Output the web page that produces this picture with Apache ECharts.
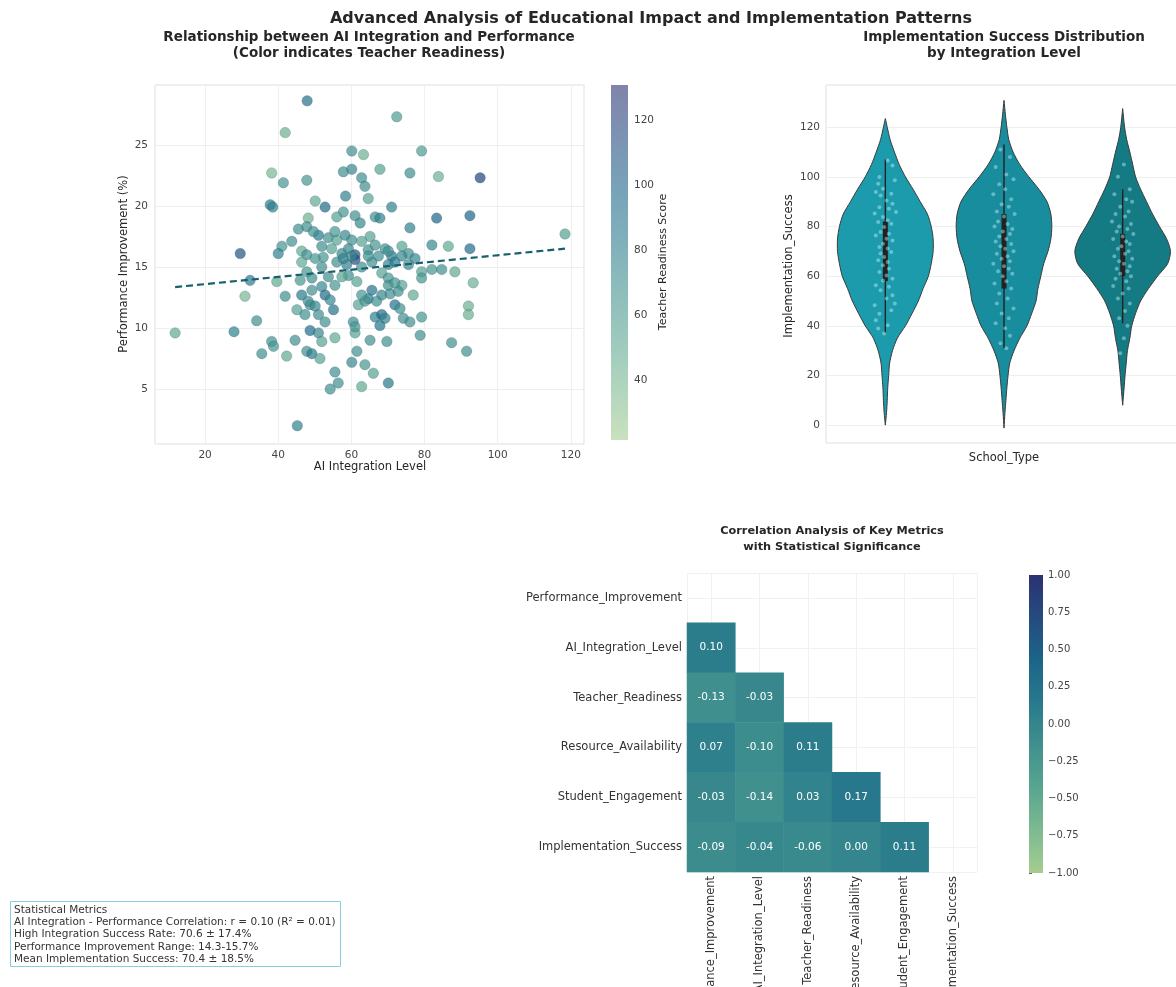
<!DOCTYPE html>
<html><head><meta charset="utf-8">
<script src="https://cdn.jsdelivr.net/npm/echarts@6/dist/echarts.min.js"></script>
<style>html,body{margin:0;padding:0;background:#fff}#c{width:1176px;height:987px}</style>
</head><body><div id="c"></div>
<script>
// ---------- Scatter: AI integration vs performance ----------
const aiLevel = [47.9,72.4,41.9,60.1,63.3,79.2,38.2,41.4,47.8,57.8,60.1,62.8,67.8,76.0,83.8,95.2,37.8,38.5,58.4,64.6,63.7,50.1,52.8,57.8,56.0,61.0,62.4,66.5,67.8,71.0,76.0,83.3,92.4,48.2,45.5,47.8,51.0,53.7,56.0,58.3,65.1,43.7,41.0,29.6,40.0,46.4,47.8,51.9,52.3,54.6,57.4,59.2,61.0,61.0,64.6,66.5,69.2,71.0,73.8,75.6,77.4,82.0,86.5,92.4,118.4,46.4,50.1,56.0,58.7,62.8,65.6,70.1,71.9,75.6,79.2,82.0,84.7,88.3,32.3,39.6,46.0,49.2,53.7,59.2,61.5,68.3,70.1,73.8,79.2,93.3,30.9,41.9,46.4,49.2,51.9,52.8,55.5,54.2,65.6,64.6,68.3,70.6,72.8,76.9,45.1,48.7,51.0,55.1,61.9,63.7,66.5,68.3,69.2,71.9,73.3,74.2,79.2,92.0,92.0,34.1,48.7,52.8,60.5,67.8,76.0,11.8,27.9,44.6,51.0,51.9,55.5,61.0,61.0,65.1,69.7,78.8,87.4,38.2,38.7,35.5,42.3,47.8,49.2,51.4,61.5,60.1,63.7,66.0,91.5,55.5,56.4,54.2,62.8,70.1,45.2,49.6,55.5,60.1,62.8,57.8,60.1,64.6,67.4,70.1,73.8,47.8,51.9,57.4,70.1,71.9,48.2,50.1,66.9,62.8,47.3];
const perfImprove = [28.6,27.3,26.0,24.5,24.2,24.5,22.7,21.9,22.1,22.8,23.0,22.3,23.0,22.7,22.4,22.3,20.1,19.9,20.8,20.6,21.6,20.4,19.9,19.5,19.1,19.2,18.6,19.1,19.0,19.9,18.2,19.0,19.2,19.0,18.1,18.3,17.6,17.4,17.2,17.6,17.5,17.1,16.7,16.1,16.1,16.3,16.0,16.7,15.8,16.5,16.1,16.5,16.0,15.6,16.4,16.8,16.5,15.9,16.7,16.1,15.7,16.8,16.7,16.5,17.7,15.4,15.7,15.4,15.2,15.0,15.4,15.2,15.4,15.2,14.6,14.8,14.8,14.6,13.9,13.8,13.9,14.1,14.2,14.3,13.8,14.5,14.1,13.5,14.1,13.7,12.6,12.6,12.7,13.1,13.4,12.7,13.5,12.3,13.1,12.4,12.7,12.8,13.0,12.7,11.5,11.9,11.1,11.5,11.9,12.2,10.9,11.1,10.8,11.9,11.6,10.8,10.9,11.8,11.1,10.6,9.8,10.5,10.5,10.2,10.5,9.6,9.7,9.0,9.6,8.9,9.2,9.6,10.1,9.0,8.9,9.4,8.8,8.9,8.5,7.9,7.7,8.1,7.9,7.5,8.1,7.2,7.0,6.3,8.1,6.4,5.5,5.0,5.2,5.5,2.0,17.9,17.9,17.2,17.1,15.7,15.9,15.9,15.9,16.3,15.9,14.6,15.0,14.2,13.5,13.7,12.2,11.8,12.2,12.7,11.1];
const teacherReady = [90,60,45,70,45,60,40,65,65,70,75,70,55,70,45,120,85,80,80,55,70,50,95,65,55,70,75,70,80,80,80,100,100,45,70,70,85,70,55,75,55,70,65,110,80,50,70,70,65,55,75,75,110,115,70,65,70,85,55,70,75,75,50,95,55,50,65,70,80,70,70,80,85,75,55,65,70,50,85,50,65,70,70,70,55,55,65,55,65,45,40,70,85,70,75,95,65,75,90,85,75,70,70,50,55,70,70,90,55,65,80,95,80,90,70,70,65,45,45,70,95,70,70,90,70,50,80,70,75,55,50,55,65,70,70,70,70,70,65,70,50,70,85,55,70,75,65,55,70,70,70,70,50,85,80,70,65,70,55,80,75,70,70,70,75,65,70,55,70,65,70,75,70,65,70];
const trendX = [11.8, 118.4];
const trendY = [13.35, 16.5];
const readinessRange = [21.5, 131];

// ---------- Violin: implementation success ----------
const schoolIdx = [0, 1, 2];
const violinDensity1 = [[123.5,0],[120,0.04],[115,0.1],[110,0.19],[105,0.29],[100,0.42],[95,0.58],[90,0.73],[85,0.88],[80,0.96],[75,1.0],[70,1.0],[65,0.96],[60,0.9],[55,0.79],[50,0.69],[45,0.56],[40,0.42],[35,0.25],[30,0.15],[25,0.09],[20,0.07],[15,0.05],[10,0.04],[5,0.025],[0,0]];
const violinDensity2 = [[130.8,0],[125,0.03],[120,0.06],[115,0.1],[110,0.19],[105,0.33],[100,0.52],[95,0.73],[90,0.9],[85,0.98],[80,1.0],[75,0.98],[70,0.92],[65,0.83],[60,0.77],[55,0.71],[50,0.67],[45,0.58],[40,0.48],[35,0.33],[30,0.21],[25,0.12],[20,0.085],[15,0.06],[10,0.04],[5,0.02],[-1.2,0]];
const violinDensity3 = [[127.5,0],[120,0.04],[115,0.085],[110,0.15],[105,0.21],[100,0.27],[95,0.375],[90,0.5],[85,0.625],[80,0.77],[75,0.92],[70,1.0],[65,0.94],[60,0.73],[55,0.54],[50,0.375],[45,0.27],[40,0.19],[35,0.15],[30,0.1],[25,0.075],[20,0.05],[15,0.03],[8,0]];
// [whisker low, q1, median, q3, whisker high]
const boxStats = [[37,58,70,82,107],[31,55,70,85,113],[41,60,67,77,95]];
const strip1 = [106.6,104.6,99.9,98.6,97.2,95.2,93.9,93.2,92.5,90.5,89.2,87.8,87.2,85.8,85.2,83.8,82.5,81.8,81.1,79.8,77.8,77.1,76.4,75.1,74.4,73.1,71.7,71.1,69.7,69.1,67.7,66.4,65.7,64.4,63.0,61.7,60.3,59.0,58.3,56.3,55.7,54.3,52.3,51.0,49.0,48.3,46.3,44.9,42.2,40.2,38.9,36.9];
const jitter1 = [0.02,0.06,-0.05,0.08,-0.06,-0.02,-0.08,0.05,-0.04,0.01,0.06,-0.05,0.03,0.09,-0.09,-0.02,0.02,-0.06,0.05,-0.01,-0.04,0.03,-0.08,0.01,0.06,-0.02,-0.05,0.02,0.05,-0.04,-0.01,-0.06,0.02,-0.02,0.03,-0.05,0.01,0.06,-0.02,-0.08,0.03,-0.04,0.06,0.01,0.08,-0.09,0.05,-0.05,-0.08,0.02,-0.06,-0.01];
const strip2 = [111,108,104,101,99,97,95,93,91,89,88,86,85,84,82,81,80,79,78,77,76,75,74,73,72,71,70,69,68,67,66,65,64,63,62,61,60,58,57,55,53,51,49,47,45,43,41,39,36,33,31];
const jitter2 = [-0.03,0.05,-0.07,0.02,0.08,-0.04,0.01,-0.09,0.06,-0.02,0.04,-0.06,0.09,0.00,-0.05,0.03,-0.08,0.07,-0.01,0.05,-0.04,0.02,-0.07,0.06,-0.03,0.01,0.08,-0.06,0.03,-0.02,0.05,-0.09,0.00,0.04,-0.05,0.07,-0.01,0.02,-0.08,0.06,-0.04,0.03,-0.06,0.08,-0.02,0.04,-0.07,0.01,0.05,-0.03,0.02];
const strip3 = [105,100,95,93,91,90,88,86,85,84,82,81,80,79,78,77,76,75,74,73,72,71,70,69,68,67,66,65,64,63,62,61,60,59,58,56,55,53,51,49,46,43,40,35,29];
const jitter3 = [0.01,-0.04,0.06,-0.07,0.03,0.08,-0.02,0.05,-0.06,0.02,-0.09,0.07,-0.03,0.04,-0.05,0.09,0.00,-0.08,0.03,0.06,-0.01,-0.04,0.05,0.02,-0.07,0.08,-0.03,0.01,0.06,-0.05,0.04,-0.02,0.07,-0.06,0.03,-0.08,0.05,0.00,-0.04,0.06,0.02,-0.03,0.04,0.01,-0.02];

// ---------- Correlation heatmap ----------
const metrics = ['Performance_Improvement','AI_Integration_Level','Teacher_Readiness','Resource_Availability','Student_Engagement','Implementation_Success'];
const corrLower = [[],[0.10],[-0.13,-0.03],[0.07,-0.10,0.11],[-0.03,-0.14,0.03,0.17],[-0.09,-0.04,-0.06,0.00,0.11]];
const corrRange = [-1, 1];

const statsLines = [
  'Statistical Metrics',
  'AI Integration - Performance Correlation: r = 0.10 (R\u00b2 = 0.01)',
  'High Integration Success Rate: 70.6 \u00b1 17.4%',
  'Performance Improvement Range: 14.3-15.7%',
  'Mean Implementation Success: 70.4 \u00b1 18.5%'
];

// ---------- styles ----------
const crest = ['#a5cd90','#7dba91','#59a590','#40908e','#287a8c','#1c6488','#254b7f','#2c3172'];
const violinColors = ['#1c9bad','#178d9e','#147b85'];
const FONT = 'DejaVu Sans';
const tick = {fontFamily: FONT, fontSize: 10.5, color: '#444'};
const maxHalf = 0.403;

const chart = echarts.init(document.getElementById('c'), null, {renderer: 'canvas'});

function cbar(xi, yi, range, opacity) {
  return {
    type: 'custom', xAxisIndex: xi, yAxisIndex: yi, silent: true,
    data: [[range[0], range[1]]],
    renderItem: (params, api) => {
      const p0 = api.coord([0, api.value(1)]);
      const p1 = api.coord([1, api.value(0)]);
      return {
        type: 'rect',
        shape: {x: p0[0], y: p0[1], width: p1[0] - p0[0], height: p1[1] - p0[1]},
        style: {
          fill: new echarts.graphic.LinearGradient(0, 1, 0, 0,
            crest.map((c, i) => ({offset: i / (crest.length - 1), color: c}))),
          opacity: opacity
        }
      };
    }
  };
}

const profiles = [violinDensity1, violinDensity2, violinDensity3];
const strips = [[strip1, jitter1], [strip2, jitter2], [strip3, jitter3]];
const stripData = [];
strips.forEach(([vals, jit], i) => vals.forEach((v, k) => stripData.push([i + jit[k], v])));

const heatData = [];
corrLower.forEach((row, i) => row.forEach((v, j) => heatData.push([j, i, v])));

const T = (text, x, y, size, weight, extra) => Object.assign({
  type: 'text', x: x, y: y,
  style: {text: text, fontFamily: FONT, fontSize: size, fontWeight: weight || 'normal', fill: '#262626',
          textAlign: 'center', textVerticalAlign: 'middle'}
}, extra || {});

const G = (o) => Object.assign({outerBoundsMode: 'none', containLabel: false}, o);

const option = {
  backgroundColor: '#fff',
  animation: false,
  grid: [
    G({left: 155, top: 85, width: 429, height: 359, show: true, borderColor: '#dedede', borderWidth: 1, backgroundColor: 'transparent'}),
    G({left: 611, top: 85, width: 17, height: 355}),
    G({left: 826, top: 85, width: 356, height: 358, show: true, borderColor: '#dedede', borderWidth: 1, backgroundColor: 'transparent'}),
    G({left: 687, top: 573, width: 290, height: 299}),
    G({left: 1029, top: 575, width: 14, height: 298})
  ],
  xAxis: [
    {gridIndex: 0, type: 'value', min: 6.3, max: 123.6, splitNumber: 5,
     axisLine: {show: false}, axisTick: {show: false},
     axisLabel: Object.assign({}, tick, {margin: 6, formatter: v => (Math.abs(v % 20) < 1e-9 ? String(v) : '')}),
     splitLine: {lineStyle: {color: '#efefef'}}},
    {gridIndex: 1, type: 'value', min: 0, max: 1, show: false},
    {gridIndex: 2, type: 'value', min: -0.5, max: 2.5, axisLine: {show: false}, axisTick: {show: false},
     axisLabel: {show: false}, splitLine: {show: false}},
    {gridIndex: 3, type: 'category', data: metrics, axisLine: {show: false}, axisTick: {show: false},
     axisLabel: {rotate: 90, fontFamily: FONT, fontSize: 11.5, color: '#333', margin: 4, interval: 0},
     splitLine: {show: false}},
    {gridIndex: 3, type: 'value', min: -0.5, max: 5.5, splitNumber: 6, axisLine: {show: false},
     axisTick: {show: false}, axisLabel: {show: false}, splitLine: {lineStyle: {color: '#f1f1f1'}}},
    {gridIndex: 4, type: 'value', min: 0, max: 1, show: false}
  ],
  yAxis: [
    {gridIndex: 0, type: 'value', min: 0.5, max: 29.9, splitNumber: 5,
     axisLine: {show: false}, axisTick: {show: false},
     axisLabel: Object.assign({}, tick, {margin: 7, formatter: v => (Math.abs(v % 5) < 1e-9 ? String(v) : '')}),
     splitLine: {lineStyle: {color: '#efefef'}}},
    {gridIndex: 1, type: 'value', position: 'right', min: readinessRange[0], max: readinessRange[1], splitNumber: 5,
     axisLine: {show: false}, axisTick: {show: false}, splitLine: {show: false},
     axisLabel: Object.assign({}, tick, {margin: 6, formatter: v => (Math.abs(v % 20) < 1e-9 ? String(v) : '')})},
    {gridIndex: 2, type: 'value', min: -7.2, max: 137, splitNumber: 7,
     axisLine: {show: false}, axisTick: {show: false},
     axisLabel: Object.assign({}, tick, {margin: 6, formatter: v => (Math.abs(v % 20) < 1e-9 ? String(v) : '')}),
     splitLine: {lineStyle: {color: '#efefef'}}},
    {gridIndex: 3, type: 'category', data: metrics, inverse: true, axisLine: {show: false}, axisTick: {show: false},
     axisLabel: {fontFamily: FONT, fontSize: 11.5, color: '#333', margin: 5, interval: 0}, splitLine: {show: false}},
    {gridIndex: 3, type: 'value', min: -0.5, max: 5.5, splitNumber: 6, axisLine: {show: false},
     axisTick: {show: false}, axisLabel: {show: false}, splitLine: {lineStyle: {color: '#f1f1f1'}}},
    {gridIndex: 4, type: 'value', position: 'right', min: corrRange[0], max: corrRange[1], interval: 0.25,
     axisLine: {show: false}, axisTick: {show: true, length: 3, lineStyle: {color: '#666'}}, splitLine: {show: false},
     axisLabel: Object.assign({}, tick, {fontSize: 10, margin: 5, formatter: v => (v < 0 ? '\u2212' : '') + Math.abs(v).toFixed(2)})}
  ],
  visualMap: [
    {type: 'continuous', show: false, seriesIndex: 0, dimension: 2, min: readinessRange[0], max: readinessRange[1], inRange: {color: crest}},
    {type: 'continuous', show: false, seriesIndex: 6, dimension: 2, min: corrRange[0], max: corrRange[1], inRange: {color: crest}}
  ],
  series: [
    {type: 'scatter', xAxisIndex: 0, yAxisIndex: 0,
     data: aiLevel.map((x, i) => [x, perfImprove[i], teacherReady[i]]),
     symbolSize: 10.5, itemStyle: {opacity: 0.7, borderColor: 'rgba(20,60,90,0.3)', borderWidth: 1}, z: 2},
    {type: 'line', xAxisIndex: 0, yAxisIndex: 0, data: trendX.map((x, i) => [x, trendY[i]]),
     symbol: 'none', lineStyle: {color: '#17606e', width: 2.2, type: [7, 4]}, z: 3},
    cbar(1, 1, readinessRange, 0.6),
    {type: 'custom', xAxisIndex: 2, yAxisIndex: 2, data: schoolIdx.map(i => [i, 0]),
     renderItem: (params, api) => {
       const i = params.dataIndex;
       const prof = profiles[i];
       const right = prof.map(([v, d]) => api.coord([i + d * maxHalf, v]));
       const left = prof.slice().reverse().map(([v, d]) => api.coord([i - d * maxHalf, v]));
       return {type: 'polygon', shape: {points: right.concat(left), smooth: 0.25},
               style: {fill: violinColors[i], stroke: '#3a3a3a', lineWidth: 1}};
     }, z: 2},
    {type: 'custom', xAxisIndex: 2, yAxisIndex: 2, data: schoolIdx.map(i => [i, 0]),
     renderItem: (params, api) => {
       const i = params.dataIndex;
       const s = boxStats[i];
       const lo = api.coord([i, s[0]]), q1 = api.coord([i, s[1]]), q3 = api.coord([i, s[3]]), hi = api.coord([i, s[4]]);
       return {type: 'group', children: [
         {type: 'line', shape: {x1: lo[0], y1: lo[1], x2: hi[0], y2: hi[1]}, style: {stroke: '#222', lineWidth: 1.4}},
         {type: 'rect', shape: {x: q1[0] - 2.5, y: q3[1], width: 5, height: q1[1] - q3[1]}, style: {fill: '#222'}}
       ]};
     }, z: 3},
    {type: 'scatter', xAxisIndex: 2, yAxisIndex: 2, data: stripData, symbolSize: 4,
     itemStyle: {color: 'rgba(200,242,248,0.55)'}, z: 4},
    {type: 'heatmap', xAxisIndex: 3, yAxisIndex: 3, data: heatData,
     label: {show: true, color: '#fff', fontFamily: FONT, fontSize: 10.5, formatter: p => p.value[2].toFixed(2)}},
    cbar(5, 5, corrRange, 1)
  ],
  graphic: [
    T('Advanced Analysis of Educational Impact and Implementation Patterns', 651, 19, 16, 'bold'),
    T('Relationship between AI Integration and Performance', 369, 37, 13.5, 'bold'),
    T('(Color indicates Teacher Readiness)', 369, 53, 13.5, 'bold'),
    T('Implementation Success Distribution', 1004, 37, 13.5, 'bold'),
    T('by Integration Level', 1004, 53, 13.5, 'bold'),
    T('Correlation Analysis of Key Metrics', 832, 531, 11.3, 'bold'),
    T('with Statistical Significance', 832, 547, 11.3, 'bold'),
    T('AI Integration Level', 370, 467, 11.5, 'normal'),
    T('Performance Improvement (%)', 124, 264, 11.5, 'normal', {rotation: Math.PI / 2}),
    T('Teacher Readiness Score', 663, 262, 11, 'normal', {rotation: Math.PI / 2}),
    T('Implementation_Success', 789, 266, 11.5, 'normal', {rotation: Math.PI / 2}),
    T('School_Type', 1004, 458, 11.5, 'normal'),
    {type: 'rect', shape: {x: 10.5, y: 901.5, width: 330, height: 65},
     style: {fill: 'rgba(255,255,255,0.85)', stroke: '#86cfe0', lineWidth: 1}},
    {type: 'text', x: 14, y: 904,
     style: {text: statsLines.join('\n'), fontFamily: FONT, fontSize: 10.5, lineHeight: 12.3, fill: '#333',
             textAlign: 'left', textVerticalAlign: 'top'}}
  ]
};
chart.setOption(option);
</script>
</body></html>
